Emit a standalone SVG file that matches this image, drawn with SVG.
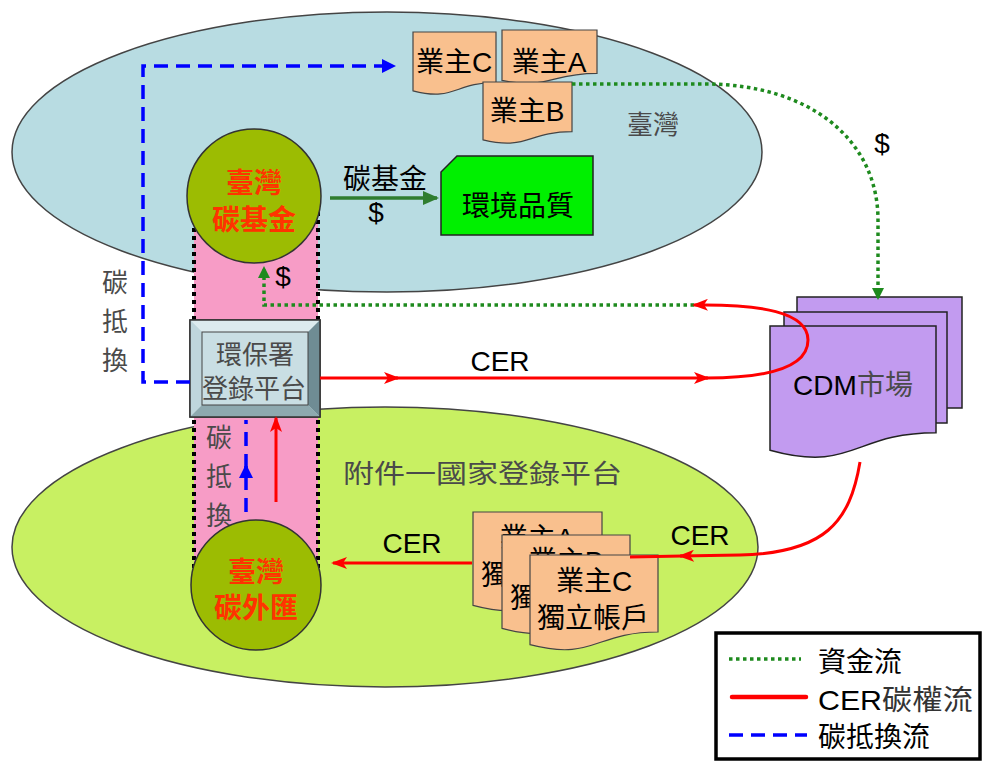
<svg xmlns="http://www.w3.org/2000/svg" width="984" height="762" viewBox="0 0 984 762">
  <style>
    text { font-family: "Liberation Sans", "Noto Sans CJK TC", sans-serif; }
    .zone { stroke: #444; stroke-width: 1.5; }
    .paper { fill: #F9C08E; stroke: #444; stroke-width: 1.2; }
    .cdm { fill: #C29BF0; stroke: #222; stroke-width: 1.5; }
    .fund { fill: #9CBC02; stroke: #333; stroke-width: 1.5; }
    .t { font-size: 28px; fill: #000; text-anchor: middle; }
    .g { font-size: 26px; fill: #4a4a4a; text-anchor: middle; }
    .s { text-anchor: start; }
    .fundtxt { font-size: 28px; font-weight: bold; fill: #FF3300; text-anchor: middle; }
    .money { fill: none; stroke: #1E8A1E; stroke-width: 3.5; stroke-dasharray: 3.5 3.5; }
    .cer { fill: none; stroke: #FF0000; stroke-width: 3; }
    .offset { fill: none; stroke: #0000FF; stroke-width: 3.5; stroke-dasharray: 14 8; }
    .wall { fill: none; stroke: #000; stroke-width: 4; stroke-dasharray: 4 4; }
  </style>
  <defs>
    <marker id="arrRed" markerUnits="userSpaceOnUse" markerWidth="16" markerHeight="12" refX="14" refY="6" orient="auto">
      <path d="M0,0 L16,6 L0,12 L4,6 Z" fill="#FF0000"/>
    </marker>
    <marker id="arrGreen" markerUnits="userSpaceOnUse" markerWidth="12" markerHeight="12" refX="10" refY="6" orient="auto">
      <path d="M0,0 L12,6 L0,12 Z" fill="#1E8A1E"/>
    </marker>
    <marker id="arrDkGreen" markerUnits="userSpaceOnUse" markerWidth="16" markerHeight="14" refX="14" refY="7" orient="auto">
      <path d="M0,0 L16,7 L0,14 Z" fill="#2F7D2F"/>
    </marker>
    <marker id="arrBlue" markerUnits="userSpaceOnUse" markerWidth="14" markerHeight="14" refX="12" refY="7" orient="auto">
      <path d="M0,0 L14,7 L0,14 Z" fill="#0000FF"/>
    </marker>
  </defs>

  <rect width="984" height="762" fill="#FFFFFF"/>

  <!-- regions -->
  <g id="taiwan-zone">
    <ellipse class="zone" cx="387" cy="152" rx="375" ry="140" fill="#B8DCE2"/>
    <text class="g" x="653" y="134" font-size="29">臺灣</text>
  </g>
  <g id="annex1-zone">
    <ellipse class="zone" cx="385" cy="547" rx="373" ry="140" fill="#C8F062"/>
    <text class="g s" x="343" y="483" textLength="279" lengthAdjust="spacingAndGlyphs" font-size="28">附件一國家登錄平台</text>
  </g>

  <!-- pink exchange corridor -->
  <g id="corridor">
    <rect x="194" y="200" width="124" height="372" fill="#F79CC6"/>
    <line class="wall" x1="194" y1="212" x2="194" y2="568"/>
    <line class="wall" x1="318" y1="212" x2="318" y2="568"/>
    <text class="g" x="219" y="447" font-size="25">碳</text>
    <text class="g" x="219" y="486" font-size="25">抵</text>
    <text class="g" x="219" y="525" font-size="25">換</text>
  </g>

  <!-- upper owners -->
  <g id="owner-c-top">
    <path class="paper" d="M413,32 H496 V82.5 C454.5,82.5 454.5,101.7 413,90.8 Z"/>
    <text class="t" x="454" y="72">業主C</text>
  </g>
  <g id="owner-a-top">
    <path class="paper" d="M502,30 H597 V73.3 C549.5,73.3 549.5,89.8 502,80.4 Z"/>
    <text class="t" x="549" y="72">業主A</text>
  </g>
  <g id="owner-b-top">
    <path class="paper" d="M483,82 H572 V131.7 C527.5,131.7 527.5,150.6 483,139.9 Z"/>
    <text class="t" x="527" y="121">業主B</text>
  </g>

  <g id="env-quality">
    <path d="M457,156 H593 V235 H441 V172 Z" fill="#00F000" stroke="#222" stroke-width="1.5"/>
    <text class="t" x="518" y="216" fill="#1a1a1a">環境品質</text>
  </g>

  <g id="carbon-fund">
    <circle class="fund" cx="254" cy="196" r="67"/>
    <text class="fundtxt" x="254" y="193">臺灣</text>
    <text class="fundtxt" x="254" y="230">碳基金</text>
  </g>

  <g id="carbon-reserve">
    <circle class="fund" cx="256" cy="585" r="65"/>
    <text class="fundtxt" x="256" y="582">臺灣</text>
    <text class="fundtxt" x="256" y="618">碳外匯</text>
  </g>

  <g id="epa-registry">
    <rect x="190" y="320" width="130" height="97" fill="#C9DEE3" stroke="#333" stroke-width="1.5"/>
    <polygon points="190,320 320,320 308,332 202,332" fill="#DCEBEE"/>
    <polygon points="190,320 202,332 202,405 190,417" fill="#BFD6DC"/>
    <polygon points="320,320 320,417 308,405 308,332" fill="#6F8C94"/>
    <polygon points="190,417 202,405 308,405 320,417" fill="#8EA9AF"/>
    <rect x="202" y="332" width="106" height="73" fill="#C9DEE3" stroke="#444" stroke-width="1"/>
    <rect x="190" y="320" width="130" height="97" fill="none" stroke="#333" stroke-width="1.5"/>
    <text class="g" x="255" y="364">環保署</text>
    <text class="g" x="254" y="398" font-size="27">登錄平台</text>
  </g>

  <g id="cdm-market">
    <rect class="cdm" x="797" y="297" width="165" height="111"/>
    <rect class="cdm" x="784" y="312" width="163" height="111"/>
    <path class="cdm" d="M770,326 H936 V432.7 C853,432.7 853,473.2 770,450.2 Z"/>
    <text class="t" x="853" y="395" font-size="30">CDM<tspan fill="#4a4a4a">市場</tspan></text>
  </g>

  <!-- owner accounts -->
  <g id="owner-a-account">
    <path class="paper" d="M473,512 H602 V592.2 C537.5,592.2 537.5,622.7 473,605.4 Z"/>
    <text class="t" x="537" y="548">業主A</text>
    <text class="t" x="537" y="585">獨立帳戶</text>
  </g>
  <g id="owner-b-account">
    <path class="paper" d="M502,535 H630 V615.2 C566,615.2 566,645.7 502,628.4 Z"/>
    <text class="t" x="566" y="571">業主B</text>
    <text class="t" x="566" y="608">獨立帳戶</text>
  </g>
  <g id="owner-c-account">
    <path class="paper" d="M530,555 H658 V632 C594,632 594,661.3 530,644.7 Z"/>
    <text class="t" x="594" y="591">業主C</text>
    <text class="t" x="593" y="628">獨立帳戶</text>
  </g>

  <!-- connectors -->
  <g id="connectors">
    <!-- carbon offset flow -->
    <path class="offset" d="M190,382 H143 V66 H394" marker-end="url(#arrBlue)"/>
    <path class="offset" d="M246,512 V466" marker-end="url(#arrBlue)"/>
    <path class="offset" d="M246,468 V420"/>
    <!-- CER flow up to registry -->
    <path class="cer" d="M276,502 V418" marker-end="url(#arrRed)"/>
    <!-- money flow back to fund -->
    <path class="money" d="M694,305 H264 V268" marker-end="url(#arrGreen)"/>
    <!-- registry to CDM market and back -->
    <path class="cer" d="M320,378 H398" marker-end="url(#arrRed)"/>
    <path class="cer" d="M396,378 H708" marker-end="url(#arrRed)"/>
    <path class="cer" d="M706,378 C760,378 808,370 808,340 C808,312 760,304 694,305" marker-end="url(#arrRed)"/>
    <!-- owners to CDM market money -->
    <path class="money" d="M572,84 H705 C810,84 878,140 878,220 V298" marker-end="url(#arrGreen)"/>
    <!-- fund to environment quality -->
    <path d="M330,198 H437" stroke="#2F7D2F" stroke-width="3.5" fill="none" marker-end="url(#arrDkGreen)"/>
    <!-- CDM market to owner accounts -->
    <path class="cer" d="M860,462 C850,522 825,553 740,555 L680,556" marker-end="url(#arrRed)"/>
    <path class="cer" d="M682,556 L630,557"/>
    <!-- owner accounts to carbon reserve -->
    <path class="cer" d="M472,563 H333" marker-end="url(#arrRed)"/>
    <text class="t" x="500" y="371">CER</text>
    <text class="t" x="412" y="553">CER</text>
    <text class="t" x="700" y="545">CER</text>
    <text class="t" x="385" y="189" fill="#4a4a4a">碳基金</text>
    <text class="t" x="376" y="222" font-size="26">$</text>
    <text class="t" x="283" y="286" font-size="26">$</text>
    <text class="t" x="882" y="153" font-size="26">$</text>
    <text class="g" x="115" y="292">碳</text>
    <text class="g" x="115" y="331">抵</text>
    <text class="g" x="115" y="370">換</text>
  </g>

  <!-- legend -->
  <g id="legend">
    <rect x="716" y="633" width="264" height="126" fill="#FFFFFF" stroke="#000" stroke-width="3.5"/>
    <line class="money" x1="729" y1="659" x2="801" y2="659"/>
    <line x1="732" y1="697" x2="806" y2="697" stroke="#FF0000" stroke-width="4.5" stroke-linecap="round"/>
    <line class="offset" x1="729" y1="735" x2="807" y2="735" stroke-dasharray="13 9"/>
    <text class="t s" x="818" y="672" fill="#333">資金流</text>
    <text class="t s" x="818" y="710" textLength="155" lengthAdjust="spacingAndGlyphs">CER<tspan fill="#333">碳權流</tspan></text>
    <text class="t s" x="818" y="747" fill="#333">碳抵換流</text>
  </g>
</svg>
